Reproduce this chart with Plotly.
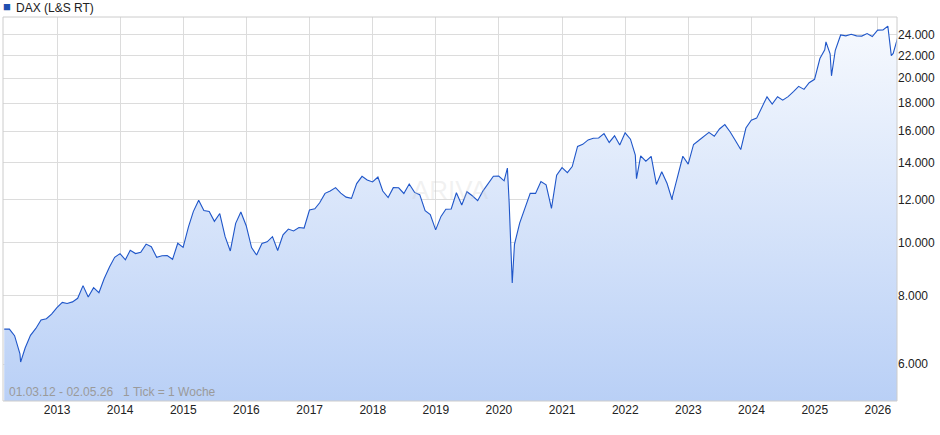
import pandas as pd
import plotly.graph_objects as go

# monthly closes, Mar 2012 - Apr 2026
monthly_values = [
    6950, 6760, 6260, 6420, 6770, 6970, 7220, 7260, 7405, 7612,
    7776, 7741, 7795, 7914, 8348, 7959, 8276, 8103, 8594, 9033, 9405, 9552,
    9306, 9692, 9556, 9603, 9943, 9833, 9407, 9470, 9474, 9326, 9980, 9806,
    10694, 11402, 11966, 11454, 11413, 10945, 11309, 10259, 9660, 10850, 11382, 10743,
    9798, 9495, 9966, 10039, 10262, 9680, 10337, 10592, 10511, 10665, 10640, 11481,
    11535, 11834, 12313, 12438, 12615, 12325, 12118, 12055, 12829, 13230, 13024, 12918,
    13189, 12436, 12097, 12612, 12605, 12306, 12805, 12364, 12247, 11447, 11257, 10559,
    11173, 11516, 11526, 12344, 11727, 12399, 12189, 11939, 12428, 12867, 13236, 13249,
    12982, 11890, 9936, 10862, 11587, 12311, 12313, 12945, 12761, 11556, 13291, 13719,
    13433, 13786, 15008, 15136, 15421, 15531, 15544, 15835, 15260, 15689, 15100, 15885,
    15471, 14461, 14415, 14098, 14388, 12784, 13484, 12835, 12114, 13254, 14397, 13924,
    15128, 15365, 15629, 15922, 15664, 16148, 16447, 15947, 15387, 14810, 16215, 16752,
    16904, 17678, 18492, 17932, 18498, 18235, 18509, 18907, 19325, 19078, 19626, 19909,
    21732, 22551, 22163, 22497, 23997, 23909, 24065, 23902, 23880, 24133, 23837, 24490,
    24500, 24900, 22200, 24100,
]
# intra-month extremes visible on the chart
extra_dates = ["2012-03-01", "2012-06-04", "2020-02-19", "2020-03-18", "2022-03-07",
               "2022-09-29", "2025-03-07", "2025-04-08", "2026-03-20", "2026-05-02"]
extra_values = [6950, 6050, 13700, 8440, 13100, 11980, 23300, 20200, 22000, 24100]

y_ticks = [6000, 8000, 10000, 12000, 14000, 16000, 18000, 20000, 22000, 24000]
y_labels = ["6.000", "8.000", "10.000", "12.000", "14.000", "16.000",
            "18.000", "20.000", "22.000", "24.000"]
years = list(range(2013, 2027))

dates = list(pd.date_range("2012-03-31", periods=len(monthly_values), freq="ME"))
df = pd.DataFrame({"date": dates + list(pd.to_datetime(extra_dates)),
                   "close": monthly_values + extra_values}).sort_values("date")

fig = go.Figure()
fig.add_trace(go.Scatter(x=df["date"], y=[5000] * len(df), mode="lines",
                         line=dict(width=0), hoverinfo="skip", showlegend=False))
fig.add_trace(go.Scatter(
    x=df["date"], y=df["close"], mode="lines", name="DAX (L&S RT)",
    line=dict(color="#1f56c9", width=1.1),
    fill="tonexty",
    fillgradient=dict(type="vertical", colorscale=[[0, "#b8cff6"], [1, "#f6f9fe"]]),
    showlegend=False,
))

fig.update_layout(
    width=940, height=435,
    margin=dict(l=3, r=43, t=17, b=34),
    plot_bgcolor="white", paper_bgcolor="white",
    font=dict(family="Liberation Sans, Arial", size=12, color="#222"),
    xaxis=dict(
        range=["2012-02-23", "2026-04-22"], automargin=False,
        tickvals=[pd.Timestamp(f"{y}-01-01") for y in years],
        ticktext=[str(y) for y in years],
        showgrid=True, gridcolor="#dcdcdc", ticks="", showline=False, zeroline=False,
    ),
    yaxis=dict(
        type="log", side="right", range=[3.7105, 4.413], automargin=False,
        tickvals=y_ticks, ticktext=y_labels,
        showgrid=True, gridcolor="#dcdcdc", ticks="", zeroline=False,
    ),
    shapes=[dict(type="rect", xref="paper", yref="paper", x0=0, x1=1, y0=0, y1=1,
                 line=dict(color="#cccccc", width=1))],
    annotations=[
        dict(text="■", x=0.0, y=1.0, xref="paper", yref="paper", xshift=-2, yshift=1,
             xanchor="left", yanchor="bottom", showarrow=False,
             font=dict(size=13, color="#1f4fb0")),
        dict(text="DAX (L&S RT)", x=0.0, y=1.0, xref="paper", yref="paper", xshift=11, yshift=0,
             xanchor="left", yanchor="bottom", showarrow=False, font=dict(size=12, color="#222")),
        dict(text="01.03.12 - 02.05.26   1 Tick = 1 Woche", x=0.0, y=0.0, xref="paper",
             yref="paper", xshift=4, yshift=0, xanchor="left", yanchor="bottom",
             showarrow=False, font=dict(size=12, color="#9a9a9a")),
        dict(text="ARIVA", x=0.5, y=0.55, xref="paper", yref="paper", showarrow=False,
             font=dict(size=26, color="rgba(200,200,200,0.25)")),
    ],
)

fig.write_html("out.html", config={"displayModeBar": False},
               post_script="document.body.style.margin='0';")
